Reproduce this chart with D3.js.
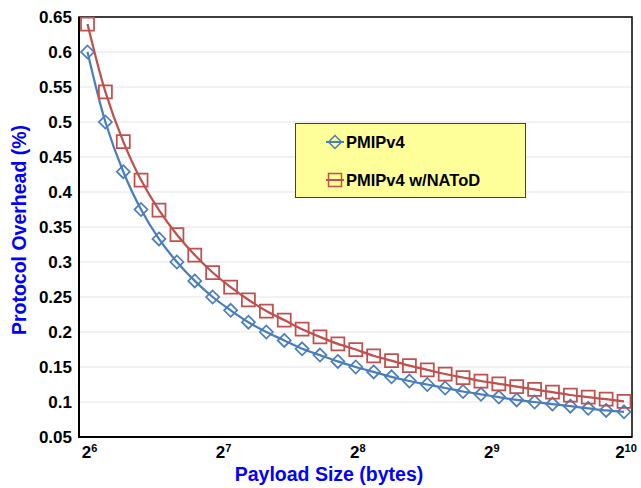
<!DOCTYPE html>
<html>
<head>
<meta charset="utf-8">
<script src="https://cdn.jsdelivr.net/npm/d3@7/dist/d3.min.js"></script>
<style>
  body { margin: 0; background: #fff; }
  text { font-family: "Liberation Sans", Arial, sans-serif; font-weight: bold; }
</style>
</head>
<body>
<script>
const width = 641;
const height = 488;

// payload sizes (bytes), evenly spaced on the log2 axis from 2^6 to 2^10
const payloadSizes = [64, 70.2, 77.0, 84.4, 92.6, 101.6, 111.4, 122.2, 134.1, 147.0,
  161.3, 176.9, 194.0, 212.8, 233.4, 256, 280.8, 308.0, 337.8, 370.5,
  406.4, 445.7, 488.9, 536.2, 588.1, 645.1, 707.5, 776.1, 851.2, 933.6, 1024];

const pmipv4 = [0.600, 0.500, 0.429, 0.375, 0.333, 0.300, 0.273, 0.250, 0.231, 0.214,
  0.200, 0.188, 0.176, 0.167, 0.158, 0.150, 0.143, 0.136, 0.130, 0.125,
  0.120, 0.115, 0.111, 0.107, 0.103, 0.100, 0.097, 0.094, 0.091, 0.088, 0.086];

const pmipv4Natod = [0.640, 0.543, 0.472, 0.417, 0.374, 0.339, 0.310, 0.285, 0.264, 0.246,
  0.230, 0.217, 0.204, 0.193, 0.183, 0.175, 0.166, 0.159, 0.152, 0.146,
  0.140, 0.135, 0.130, 0.126, 0.122, 0.118, 0.114, 0.110, 0.107, 0.104, 0.101];

const xTicks = [64, 128, 256, 512, 1024];
const xTickExp = ["6", "7", "8", "9", "10"];
const yTicks = [0.05, 0.1, 0.15, 0.2, 0.25, 0.3, 0.35, 0.4, 0.45, 0.5, 0.55, 0.6, 0.65];

const seriesNames = ["PMIPv4", "PMIPv4 w/NAToD"];
const blue = "#4a7ebb";
const red = "#c0504d";

const plot = { left: 79, right: 632, top: 17, bottom: 437 };

const svg = d3.select("body")
  .append("svg")
  .attr("width", width)
  .attr("height", height);

const x = d3.scaleLog().base(2)
  .domain([64, 1024])
  .range([87.5, 624]);

const y = d3.scaleLinear()
  .domain([0.05, 0.65])
  .range([plot.bottom, plot.top]);

// gridlines
svg.append("g")
  .selectAll("line")
  .data(yTicks)
  .join("line")
  .attr("x1", plot.left)
  .attr("x2", plot.right)
  .attr("y1", d => y(d))
  .attr("y2", d => y(d))
  .attr("stroke", "#e4e4e4")
  .attr("stroke-width", 1);

// frame
svg.append("rect")
  .attr("x", plot.left)
  .attr("y", plot.top)
  .attr("width", plot.right - plot.left)
  .attr("height", plot.bottom - plot.top)
  .attr("fill", "none")
  .attr("stroke", "#000")
  .attr("stroke-width", 1.5);
svg.append("path")
  .attr("d", `M${plot.left},${plot.top} V${plot.bottom} H${plot.right}`)
  .attr("fill", "none")
  .attr("stroke", "#000")
  .attr("stroke-width", 2);

// y tick labels
svg.append("g")
  .selectAll("text")
  .data(yTicks)
  .join("text")
  .attr("x", 72)
  .attr("y", d => y(d))
  .attr("dy", "0.35em")
  .attr("text-anchor", "end")
  .attr("font-size", "17px")
  .attr("fill", "#000")
  .text(d => d3.format("")(d));

// x tick labels 2^n
const xt = svg.append("g")
  .selectAll("text")
  .data(xTicks)
  .join("text")
  .attr("x", d => x(d) + 2)
  .attr("y", 458)
  .attr("text-anchor", "middle")
  .attr("fill", "#000");
xt.append("tspan").attr("font-size", "17px").text("2");
xt.append("tspan")
  .attr("font-size", "11px")
  .attr("dy", -6)
  .text((d, i) => xTickExp[i]);

// axis titles
svg.append("text")
  .attr("x", 329)
  .attr("y", 481)
  .attr("text-anchor", "middle")
  .attr("font-size", "19.5px")
  .attr("fill", "#0000ff")
  .text("Payload Size (bytes)");

svg.append("text")
  .attr("transform", "translate(26,230) rotate(-90)")
  .attr("text-anchor", "middle")
  .attr("font-size", "19.5px")
  .attr("fill", "#0000ff")
  .text("Protocol Overhead (%)");

// lines
const line = d3.line()
  .x(d => x(d[0]))
  .y(d => y(d[1]))
  .curve(d3.curveCatmullRom.alpha(0.5));

const series = [
  { name: seriesNames[0], values: pmipv4, color: blue, marker: "diamond" },
  { name: seriesNames[1], values: pmipv4Natod, color: red, marker: "square" }
];

function markerPath(type, cx, cy) {
  if (type === "diamond") {
    const r = 6.5;
    return `M${cx},${cy - r} L${cx + r},${cy} L${cx},${cy + r} L${cx - r},${cy} Z`;
  }
  const s = 6.5;
  return `M${cx - s},${cy - s} H${cx + s} V${cy + s} H${cx - s} Z`;
}

series.forEach(s => {
  const pts = payloadSizes.map((p, i) => [p, s.values[i]]);
  svg.append("path")
    .datum(pts)
    .attr("d", line)
    .attr("fill", "none")
    .attr("stroke", s.color)
    .attr("stroke-width", 2.25);

  svg.append("g")
    .selectAll("path")
    .data(pts)
    .join("path")
    .attr("d", d => markerPath(s.marker, x(d[0]), y(d[1])))
    .attr("fill", "none")
    .attr("stroke", s.color)
    .attr("stroke-width", 1.75);
});

// legend
const legend = svg.append("g");
legend.append("rect")
  .attr("x", 295.5)
  .attr("y", 123.5)
  .attr("width", 230)
  .attr("height", 74)
  .attr("fill", "#ffff99")
  .attr("stroke", "#404040")
  .attr("stroke-width", 1);

series.forEach((s, i) => {
  const cy = 142 + i * 38;
  legend.append("line")
    .attr("x1", 326)
    .attr("x2", 344)
    .attr("y1", cy)
    .attr("y2", cy)
    .attr("stroke", s.color)
    .attr("stroke-width", 2);
  legend.append("path")
    .attr("d", markerPath(s.marker, 335, cy))
    .attr("fill", "none")
    .attr("stroke", s.color)
    .attr("stroke-width", 1.5);
  legend.append("text")
    .attr("x", 346)
    .attr("y", cy)
    .attr("dy", "0.35em")
    .attr("font-size", "16.5px")
    .attr("fill", "#000")
    .text(s.name);
});
</script>
</body>
</html>
